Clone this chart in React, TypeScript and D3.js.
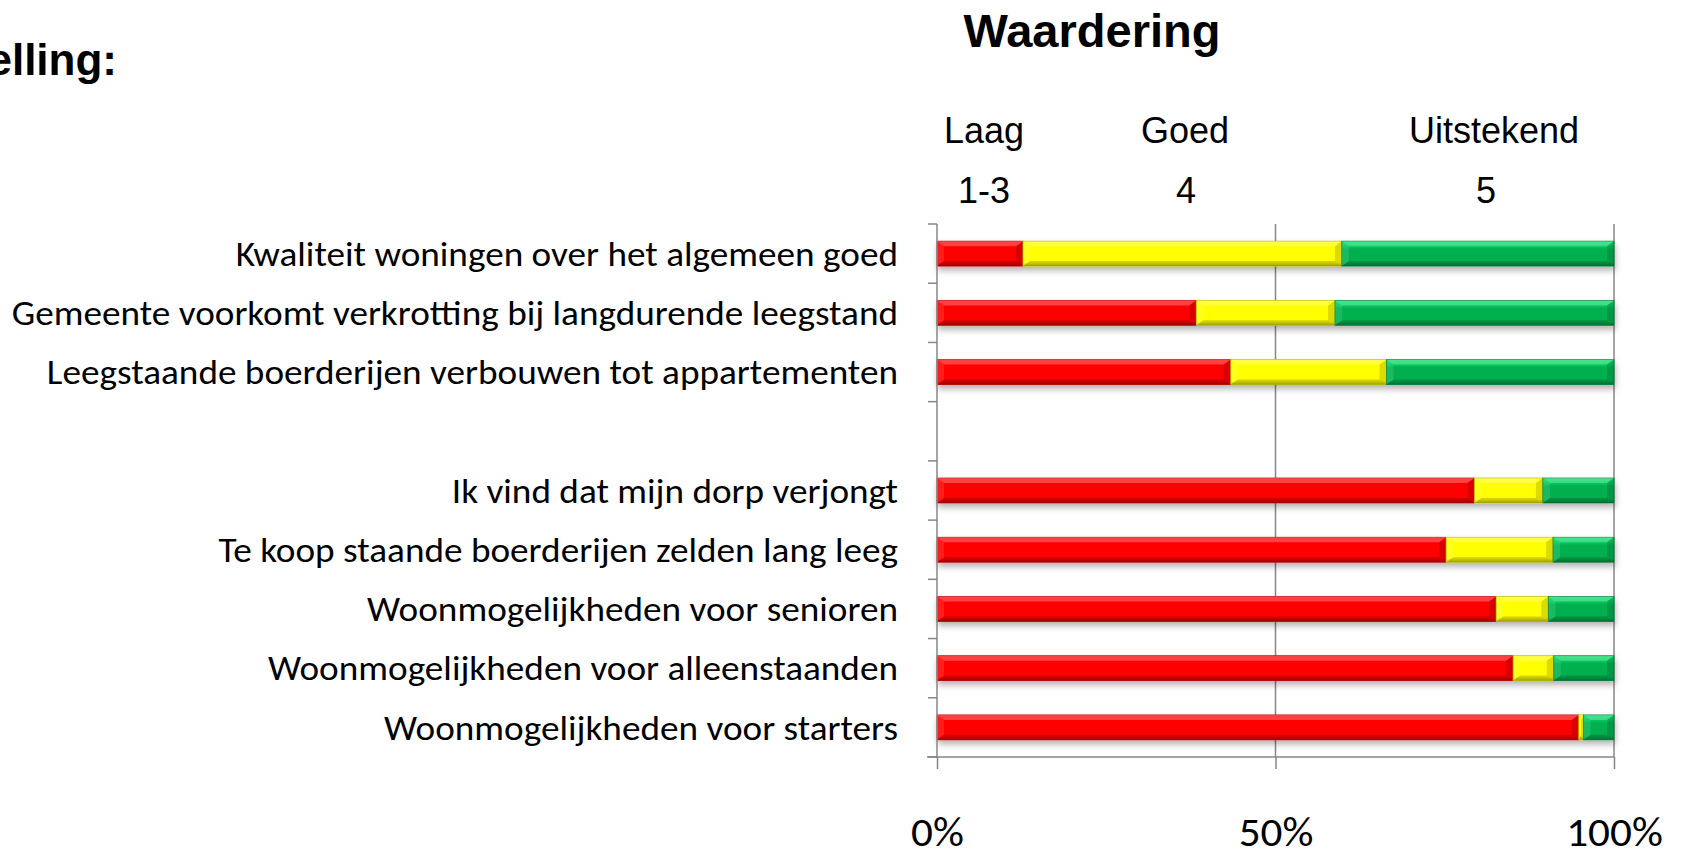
import React, { useEffect, useRef } from 'react'
import * as d3 from 'd3'

// statements, top to bottom ("" is the empty row between the two groups)
const categories = [
  'Kwaliteit woningen over het algemeen goed',
  'Gemeente voorkomt verkrotting bij langdurende leegstand',
  'Leegstaande boerderijen verbouwen tot appartementen',
  '',
  'Ik vind dat mijn dorp verjongt',
  'Te koop staande boerderijen zelden lang leeg',
  'Woonmogelijkheden voor senioren',
  'Woonmogelijkheden voor alleenstaanden',
  'Woonmogelijkheden voor starters',
]

// percentages per rating
const laag = [12.7, 38.3, 43.4, 0, 79.4, 75.2, 82.6, 85.1, 94.8]
const goed = [47.1, 20.5, 23.0, 0, 10.1, 15.8, 7.7, 6.0, 0.7]
const uitstekend = [40.2, 41.2, 33.6, 0, 10.5, 9.0, 9.7, 8.9, 4.5]

const ratingNames = ['Laag', 'Goed', 'Uitstekend']
const ratingScores = ['1-3', '4', '5']
const xTicks = [0, 50, 100]

const keys = ['laag', 'goed', 'uitstekend']
const colors = { laag: '#ff0000', goed: '#ffff00', uitstekend: '#00b050' }

export default function App() {
  const ref = useRef<SVGSVGElement>(null)

  useEffect(() => {
    const svg = d3.select(ref.current)
    svg.selectAll('*').remove()

    const rows = categories.map((c, i) => ({
      idx: i,
      label: c,
      laag: laag[i],
      goed: goed[i],
      uitstekend: uitstekend[i],
    }))

    const x = d3.scaleLinear().domain([0, 100]).range([937, 1614])
    const y = d3
      .scaleBand<number>()
      .domain(rows.map(d => d.idx))
      .range([224, 757])
      .paddingInner(0.58)
      .paddingOuter(0.29)

    const defs = svg.append('defs')
    const shadow = defs.append('filter').attr('id', 'shadow').attr('x', '-5%').attr('y', '-50%').attr('width', '110%').attr('height', '250%')
    shadow.append('feDropShadow')
      .attr('dx', 1).attr('dy', 4).attr('stdDeviation', 3)
      .attr('flood-color', '#000').attr('flood-opacity', 0.3)

    keys.forEach(k => {
      const c = d3.color(colors[k])!
      const g = defs.append('linearGradient').attr('id', 'grad-' + k)
        .attr('x1', 0).attr('y1', 0).attr('x2', 0).attr('y2', 1)
      g.append('stop').attr('offset', '0%').attr('stop-color', c.brighter(0.7).formatHex())
      g.append('stop').attr('offset', '22%').attr('stop-color', c.brighter(0.35).formatHex())
      g.append('stop').attr('offset', '32%').attr('stop-color', c.formatHex())
      g.append('stop').attr('offset', '85%').attr('stop-color', c.formatHex())
      g.append('stop').attr('offset', '100%').attr('stop-color', c.darker(0.7).formatHex())
    })

    // title texts
    svg.append('text')
      .attr('x', 117).attr('y', 75)
      .attr('text-anchor', 'end')
      .attr('font-family', 'Liberation Sans, Arial, sans-serif')
      .attr('font-weight', 'bold').attr('font-size', 44)
      .text('Stelling:')

    svg.append('text')
      .attr('x', 1092).attr('y', 47)
      .attr('text-anchor', 'middle')
      .attr('font-family', 'Liberation Sans, Arial, sans-serif')
      .attr('font-weight', 'bold').attr('font-size', 47)
      .text('Waardering')

    const headX = [984, 1185, 1494]
    svg.append('g').selectAll('text').data(ratingNames).join('text')
      .attr('x', (d, i) => headX[i]).attr('y', 143)
      .attr('text-anchor', 'middle')
      .attr('font-family', 'Liberation Sans, Arial, sans-serif')
      .attr('font-size', 36)
      .text(d => d)
    const scoreX = [984, 1186, 1486]
    svg.append('g').selectAll('text').data(ratingScores).join('text')
      .attr('x', (d, i) => scoreX[i]).attr('y', 203)
      .attr('text-anchor', 'middle')
      .attr('font-family', 'Liberation Sans, Arial, sans-serif')
      .attr('font-size', 36)
      .text(d => d)

    const axisColor = '#878787'
    const [y0, y1] = y.range()

    // gridlines
    svg.append('g').selectAll('line').data(xTicks.filter(t => t > 0)).join('line')
      .attr('x1', d => x(d)).attr('x2', d => x(d))
      .attr('y1', y0).attr('y2', y1)
      .attr('stroke', axisColor).attr('stroke-width', 1.5)

    // bars
    const series = d3.stack<any>().keys(keys)(rows)
    const bars = svg.append('g').attr('filter', 'url(#shadow)')
    series.forEach(s => {
      const k = s.key
      s.forEach((seg, i) => {
        if (seg[1] - seg[0] <= 0) return
        const bx0 = x(seg[0])
        const bx1 = x(seg[1])
        const by = y(rows[i].idx)!
        const h = y.bandwidth()
        const w = bx1 - bx0
        const b = Math.min(7, w / 2)
        const bv = 5
        const g = bars.append('g')
        g.append('rect')
          .attr('x', bx0).attr('y', by).attr('width', w).attr('height', h)
          .attr('fill', `url(#grad-${k})`)
          .attr('stroke', d3.color(colors[k])!.darker(0.8).formatHex())
          .attr('stroke-width', 0.8)
        const poly = (pts: number[][], fill: string, op: number) =>
          g.append('polygon').attr('points', pts.map(p => p.join(',')).join(' '))
            .attr('fill', fill).attr('opacity', op)
        poly([[bx0, by], [bx1, by], [bx1 - b, by + bv], [bx0 + b, by + bv]], '#fff', 0.25)
        poly([[bx0, by + h], [bx1, by + h], [bx1 - b, by + h - bv], [bx0 + b, by + h - bv]], '#000', 0.18)
        poly([[bx0, by], [bx0 + b, by + bv], [bx0 + b, by + h - bv], [bx0, by + h]], '#fff', 0.12)
        poly([[bx1, by], [bx1 - b, by + bv], [bx1 - b, by + h - bv], [bx1, by + h]], '#000', 0.14)
      })
    })

    // category axis
    const cat = svg.append('g')
    cat.append('line')
      .attr('x1', x(0)).attr('x2', x(0)).attr('y1', y0).attr('y2', y1)
      .attr('stroke', axisColor).attr('stroke-width', 1.5)
    cat.selectAll('line.tick').data(d3.range(categories.length + 1)).join('line')
      .attr('class', 'tick')
      .attr('x1', x(0) - 9).attr('x2', x(0))
      .attr('y1', d => y0 + d * y.step()).attr('y2', d => y0 + d * y.step())
      .attr('stroke', axisColor).attr('stroke-width', 1.5)
    cat.selectAll('text').data(rows).join('text')
      .attr('transform', d => `translate(898,${y(d.idx)! + y.bandwidth() / 2}) scale(1.095,1)`)
      .attr('dy', '0.36em')
      .attr('text-anchor', 'end')
      .attr('font-family', 'Carlito, Calibri, Open Sans, sans-serif')
      .attr('font-size', 34)
      .attr('fill', '#000')
      .text(d => d.label)

    // value axis
    const xAxis = d3.axisBottom(x)
      .tickValues(xTicks)
      .tickFormat(d => d + '%')
      .tickSizeInner(12)
      .tickSizeOuter(0)
    const ax = svg.append('g').attr('transform', `translate(0,${y1})`).call(xAxis)
    ax.select('.domain').remove()
    ax.append('line')
      .attr('x1', x(0) - 10).attr('x2', x(100)).attr('y1', 0).attr('y2', 0)
      .attr('stroke', axisColor).attr('stroke-width', 1.5)
    ax.selectAll('.tick line').attr('stroke', axisColor).attr('stroke-width', 1.5)
    ax.selectAll('.tick text')
      .attr('y', 89).attr('dy', 0)
      .attr('transform', 'scale(1.08,1)')
      .attr('fill', '#000')
      .attr('font-family', 'Carlito, Calibri, Open Sans, sans-serif')
      .attr('font-size', 40)
  }, [])

  return (
    <svg
      ref={ref}
      width={1685}
      height={851}
      style={{ position: 'absolute', left: 0, top: 0, background: '#fff' }}
    />
  )
}
